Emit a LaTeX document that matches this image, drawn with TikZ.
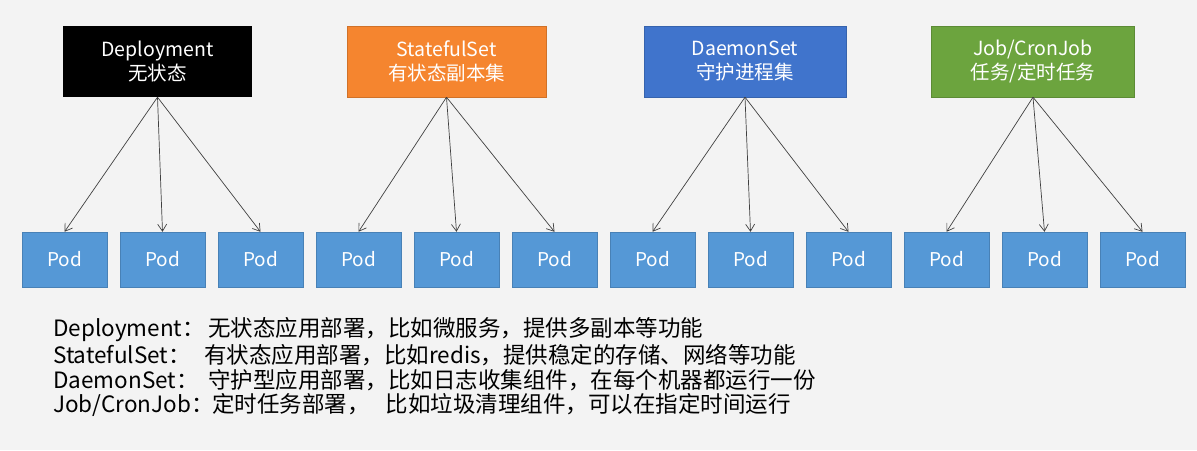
\documentclass[tikz,border=0pt]{standalone}
\usepackage{fontspec}
\setmainfont{Noto Sans CJK SC}
\usetikzlibrary{arrows.meta}
\definecolor{bgcol}{HTML}{F3F3F3}
\definecolor{orangebox}{HTML}{F5852F}
\definecolor{bluebox}{HTML}{4074CC}
\definecolor{greenbox}{HTML}{6CA43E}
\definecolor{podblue}{HTML}{5598D6}
\definecolor{linkcol}{HTML}{404040}
\tikzset{
	kind/.style={minimum height=71pt, text=white, font=\fontsize{19.5}{24}\selectfont, align=center, inner sep=0pt},
	pod/.style={fill=podblue, draw=podblue!85!black, line width=0.4pt, minimum width=85pt, minimum height=55pt, text=white, font=\fontsize{19}{21}\selectfont, inner sep=0pt},
	link/.style={draw=linkcol, line width=0.7pt, -{Straight Barb[length=7pt,width=9pt]}},
	note/.style={anchor=west, font=\fontsize{22.5}{25}\selectfont, text=black, inner sep=0pt}
}
\begin{document}
\begin{tikzpicture}[x=1pt, y=-1pt]
		\useasboundingbox (0,0) rectangle (1197,450);
		\fill[bgcol] (0,0) rectangle (1197,450);
		% workload kinds
		\node[kind, fill=black, minimum width=189pt] (deploy) at (157.5,61.5) {Deployment\\无状态};
		\node[kind, fill=orangebox, draw=orangebox!85!black, minimum width=199pt] (sts) at (446.5,61.5) {StatefulSet\\有状态副本集};
		\node[kind, fill=bluebox, draw=bluebox!85!black, minimum width=202pt] (ds) at (745,61.5) {DaemonSet\\守护进程集};
		\node[kind, fill=greenbox, draw=greenbox!85!black, minimum width=203pt] (job) at (1033,61.5) {Job/CronJob\\任务/定时任务};
		% pods
		\node[pod] (p1) at (64.5,259.5) {Pod};
		\node[pod] (p2) at (162.5,259.5) {Pod};
		\node[pod] (p3) at (260.5,259.5) {Pod};
		\node[pod] (p4) at (358.5,259.5) {Pod};
		\node[pod] (p5) at (456.5,259.5) {Pod};
		\node[pod] (p6) at (554.5,259.5) {Pod};
		\node[pod] (p7) at (652.5,259.5) {Pod};
		\node[pod] (p8) at (750.5,259.5) {Pod};
		\node[pod] (p9) at (848.5,259.5) {Pod};
		\node[pod] (p10) at (946.5,259.5) {Pod};
		\node[pod] (p11) at (1044.5,259.5) {Pod};
		\node[pod] (p12) at (1142.5,259.5) {Pod};
		% links
		\draw[link] (deploy.south) to (p1.north);
		\draw[link] (deploy.south) to (p2.north);
		\draw[link] (deploy.south) to (p3.north);
		\draw[link] (sts.south) to (p4.north);
		\draw[link] (sts.south) to (p5.north);
		\draw[link] (sts.south) to (p6.north);
		\draw[link] (ds.south) to (p7.north);
		\draw[link] (ds.south) to (p8.north);
		\draw[link] (ds.south) to (p9.north);
		\draw[link] (job.south) to (p10.north);
		\draw[link] (job.south) to (p11.north);
		\draw[link] (job.south) to (p12.north);
		% notes
		\node[note] (n1) at (53,330) {\makebox[155pt][l]{Deployment：}无状态应用部署，比如微服务，提供多副本等功能};
		\node[note] (n2) at (53,355) {\makebox[151pt][l]{StatefulSet：}有状态应用部署，比如redis，提供稳定的存储、网络等功能};
		\node[note] (n3) at (53,380) {\makebox[155pt][l]{DaemonSet：}守护型应用部署，比如日志收集组件，在每个机器都运行一份};
		\node[note] (n4) at (53,405) {\makebox[159pt][l]{Job/CronJob：}定时任务部署，\hspace{16pt}比如垃圾清理组件，可以在指定时间运行};
	\end{tikzpicture}
\end{document}
